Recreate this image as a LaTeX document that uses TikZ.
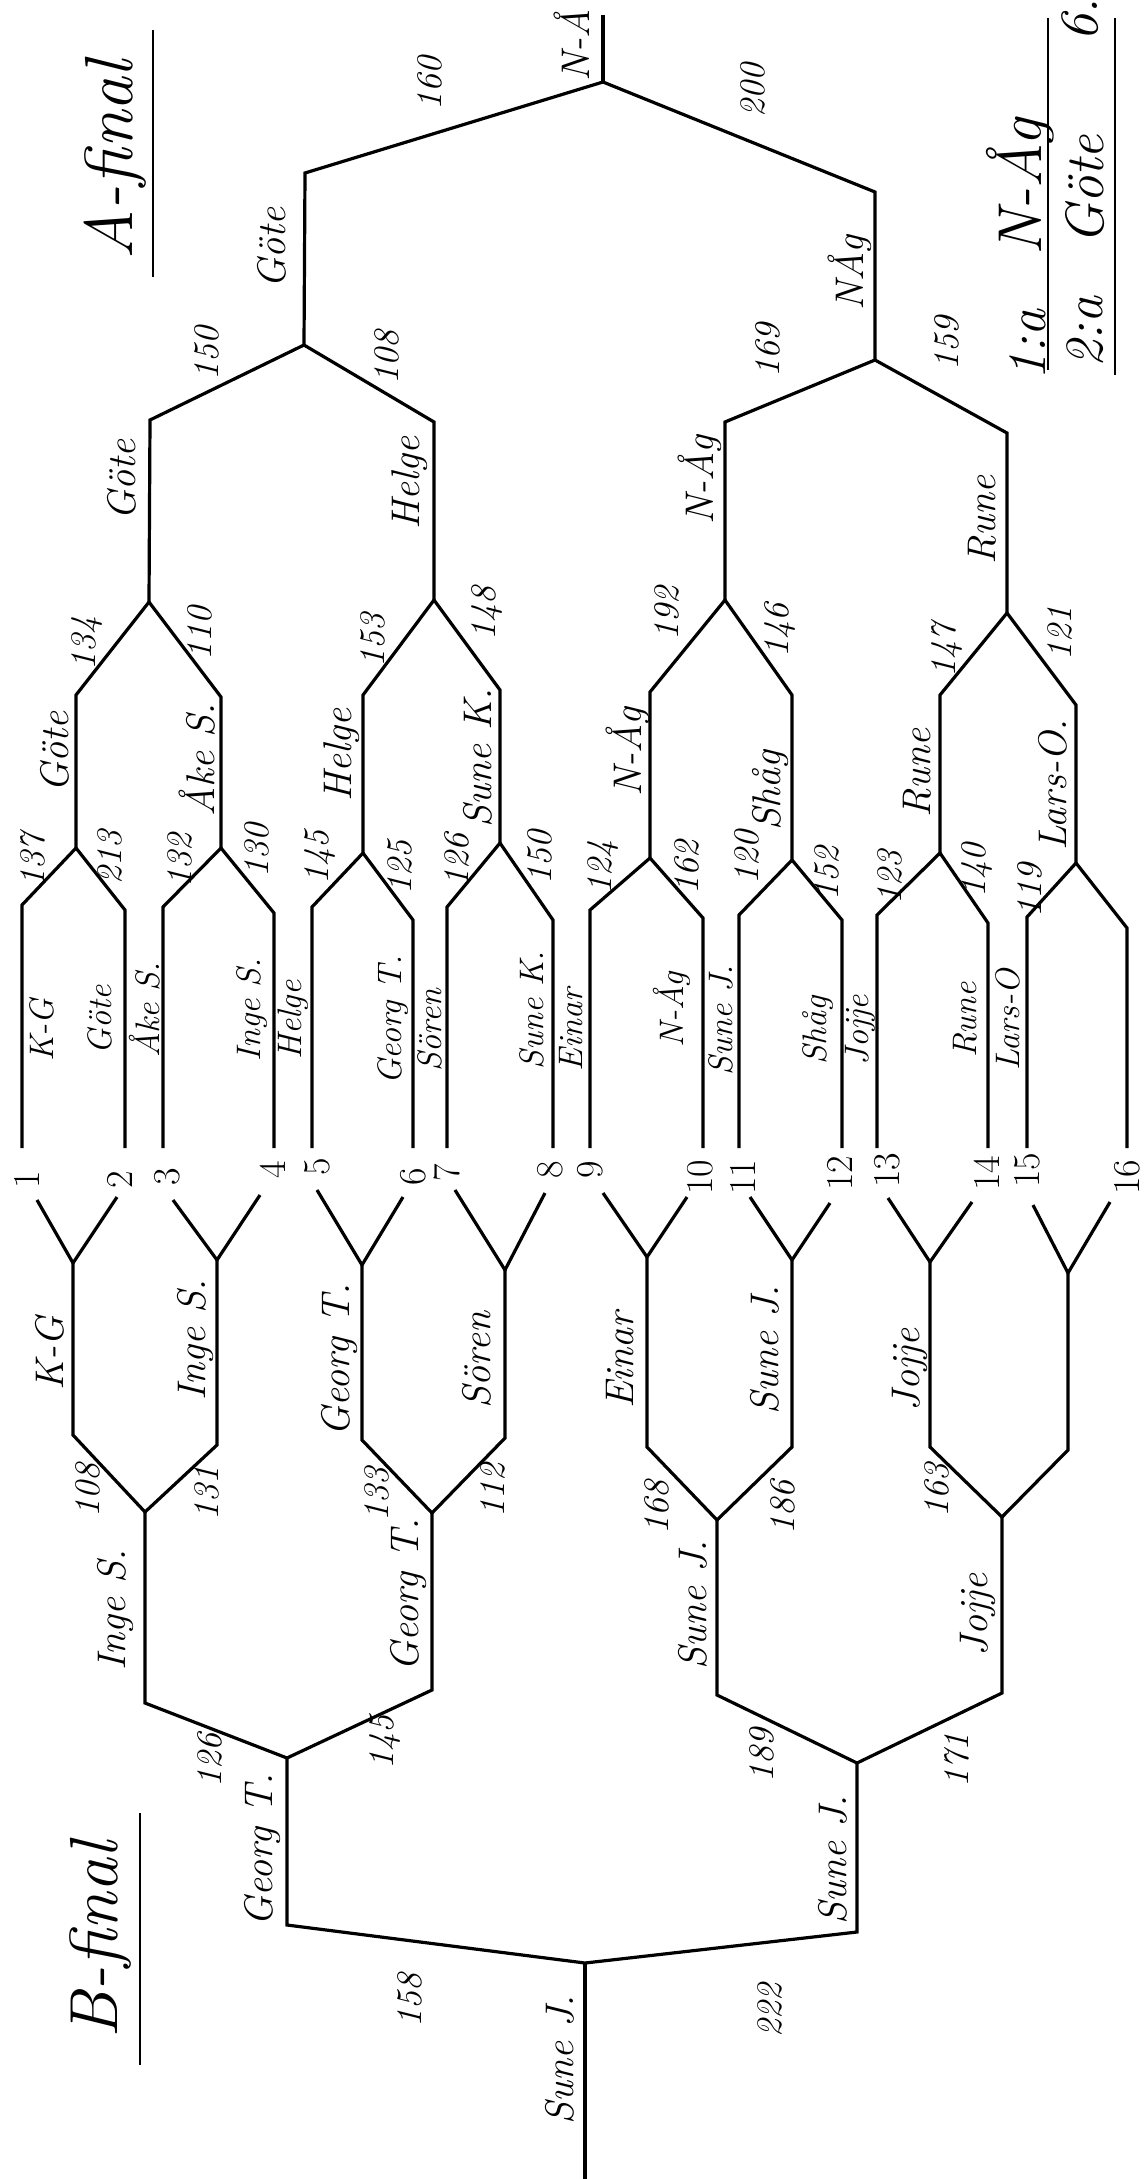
\documentclass[tikz,border=0pt]{standalone}
\usepackage{tikz}
\usetikzlibrary{positioning}

\begin{document}
\begin{tikzpicture}[x = 0.5pt, y = -0.5pt,
    bar/.style  = {line width = 1.6pt, line join = miter},
    who/.style  = {rotate = 90, font = \fontsize{20}{22}\selectfont\itshape, inner sep = 1pt},
    entry/.style = {rotate = 90, font = \fontsize{17}{19}\selectfont\itshape, inner sep = 1pt},
    pts/.style  = {rotate = 90, font = \fontsize{18}{20}\selectfont\itshape, inner sep = 1pt},
    nr/.style   = {rotate = 90, font = \fontsize{19}{21}\selectfont, inner sep = 1pt},
    head/.style = {rotate = 90, font = \fontsize{34}{38}\selectfont\itshape, inner sep = 1pt},
    res/.style  = {rotate = 90, font = \fontsize{27}{29}\selectfont\itshape, inner sep = 1pt}]
  \useasboundingbox (0,0) rectangle (1144,2179);

  % A-final: entries
  \coordinate (at1) at (22,905);    \coordinate (ab1) at (22,1148);
  \coordinate (at2) at (125,910);   \coordinate (ab2) at (125,1148);
  \coordinate (at3) at (163,907);   \coordinate (ab3) at (163,1148);
  \coordinate (at4) at (274,913);   \coordinate (ab4) at (274,1148);
  \coordinate (at5) at (312,907);   \coordinate (ab5) at (312,1148);
  \coordinate (at6) at (413,920);   \coordinate (ab6) at (413,1148);
  \coordinate (at7) at (447,907);   \coordinate (ab7) at (447,1148);
  \coordinate (at8) at (553,920);   \coordinate (ab8) at (553,1148);
  \coordinate (at9) at (590,910);   \coordinate (ab9) at (590,1148);
  \coordinate (at10) at (703,918);  \coordinate (ab10) at (703,1148);
  \coordinate (at11) at (739,915);  \coordinate (ab11) at (739,1148);
  \coordinate (at12) at (842,920);  \coordinate (ab12) at (842,1148);
  \coordinate (at13) at (877,915);  \coordinate (ab13) at (877,1148);
  \coordinate (at14) at (988,923);  \coordinate (ab14) at (988,1148);
  \coordinate (at15) at (1027,917); \coordinate (ab15) at (1027,1148);
  \coordinate (at16) at (1127,928); \coordinate (ab16) at (1127,1148);
  % A-final: rounds
  \coordinate (aj1) at (76,848);   \coordinate (av1) at (76,695);
  \coordinate (aj2) at (221,848);  \coordinate (av2) at (221,697);
  \coordinate (aj3) at (363,853);  \coordinate (av3) at (363,695);
  \coordinate (aj4) at (500,843);  \coordinate (av4) at (500,690);
  \coordinate (aj5) at (650,858);  \coordinate (av5) at (650,692);
  \coordinate (aj6) at (792,860);  \coordinate (av6) at (792,695);
  \coordinate (aj7) at (940,853);  \coordinate (av7) at (940,695);
  \coordinate (aj8) at (1076,863); \coordinate (av8) at (1076,705);
  \coordinate (ak1) at (149,602);  \coordinate (aw1) at (150,420);
  \coordinate (ak2) at (434,600);  \coordinate (aw2) at (434,422);
  \coordinate (ak3) at (725,600);  \coordinate (aw3) at (725,422);
  \coordinate (ak4) at (1007,613); \coordinate (aw4) at (1007,433);
  \coordinate (al1) at (304,345);  \coordinate (ax1) at (305,173);
  \coordinate (al2) at (875,360);  \coordinate (ax2) at (875,192);
  \coordinate (afin) at (603,82);  \coordinate (atop) at (603,15);

  \draw[bar] (ab1) -- (at1) -- (aj1) -- (at2) -- (ab2);
  \draw[bar] (ab3) -- (at3) -- (aj2) -- (at4) -- (ab4);
  \draw[bar] (ab5) -- (at5) -- (aj3) -- (at6) -- (ab6);
  \draw[bar] (ab7) -- (at7) -- (aj4) -- (at8) -- (ab8);
  \draw[bar] (ab9) -- (at9) -- (aj5) -- (at10) -- (ab10);
  \draw[bar] (ab11) -- (at11) -- (aj6) -- (at12) -- (ab12);
  \draw[bar] (ab13) -- (at13) -- (aj7) -- (at14) -- (ab14);
  \draw[bar] (ab15) -- (at15) -- (aj8) -- (at16) -- (ab16);
  \draw[bar] (aj1) -- (av1) -- (ak1) -- (av2) -- (aj2);
  \draw[bar] (aj3) -- (av3) -- (ak2) -- (av4) -- (aj4);
  \draw[bar] (aj5) -- (av5) -- (ak3) -- (av6) -- (aj6);
  \draw[bar] (aj7) -- (av7) -- (ak4) -- (av8) -- (aj8);
  \draw[bar] (ak1) -- (aw1) -- (al1) -- (aw2) -- (ak2);
  \draw[bar] (ak3) -- (aw3) -- (al2) -- (aw4) -- (ak4);
  \draw[bar] (al1) -- (ax1) -- (afin) -- (ax2) -- (al2);
  \draw[bar] (afin) -- (atop);

  % B-final: entries
  \coordinate (bt1) at (37,1200);   \coordinate (bt2) at (117,1197);
  \coordinate (bt3) at (173,1200);  \coordinate (bt4) at (260,1195);
  \coordinate (bt5) at (317,1190);  \coordinate (bt6) at (403,1197);
  \coordinate (bt7) at (455,1190);  \coordinate (bt8) at (545,1193);
  \coordinate (bt9) at (603,1193);  \coordinate (bt10) at (687,1197);
  \coordinate (bt11) at (750,1197); \coordinate (bt12) at (830,1203);
  \coordinate (bt13) at (888,1198); \coordinate (bt14) at (972,1202);
  \coordinate (bt15) at (1033,1205);\coordinate (bt16) at (1110,1202);
  % B-final: rounds
  \coordinate (bj1) at (73,1263);   \coordinate (bv1) at (73,1435);
  \coordinate (bj2) at (217,1260);  \coordinate (bv2) at (217,1445);
  \coordinate (bj3) at (362,1265);  \coordinate (bv3) at (362,1440);
  \coordinate (bj4) at (505,1270);  \coordinate (bv4) at (505,1438);
  \coordinate (bj5) at (647,1257);  \coordinate (bv5) at (647,1447);
  \coordinate (bj6) at (792,1260);  \coordinate (bv6) at (792,1447);
  \coordinate (bj7) at (930,1262);  \coordinate (bv7) at (930,1447);
  \coordinate (bj8) at (1068,1273); \coordinate (bv8) at (1068,1450);
  \coordinate (bk1) at (145,1512);  \coordinate (bw1) at (145,1703);
  \coordinate (bk2) at (432,1513);  \coordinate (bw2) at (432,1690);
  \coordinate (bk3) at (717,1520);  \coordinate (bw3) at (717,1695);
  \coordinate (bk4) at (1002,1517); \coordinate (bw4) at (1002,1693);
  \coordinate (bl1) at (287,1758);  \coordinate (bx1) at (287,1925);
  \coordinate (bl2) at (857,1763);  \coordinate (bx2) at (857,1932);
  \coordinate (bfin) at (585,1963); \coordinate (bbot) at (585,2179);

  \draw[bar] (bt1) -- (bj1) -- (bt2);    \draw[bar] (bt3) -- (bj2) -- (bt4);
  \draw[bar] (bt5) -- (bj3) -- (bt6);    \draw[bar] (bt7) -- (bj4) -- (bt8);
  \draw[bar] (bt9) -- (bj5) -- (bt10);   \draw[bar] (bt11) -- (bj6) -- (bt12);
  \draw[bar] (bt13) -- (bj7) -- (bt14);  \draw[bar] (bt15) -- (bj8) -- (bt16);
  \draw[bar] (bj1) -- (bv1) -- (bk1) -- (bv2) -- (bj2);
  \draw[bar] (bj3) -- (bv3) -- (bk2) -- (bv4) -- (bj4);
  \draw[bar] (bj5) -- (bv5) -- (bk3) -- (bv6) -- (bj6);
  \draw[bar] (bj7) -- (bv7) -- (bk4) -- (bv8) -- (bj8);
  \draw[bar] (bk1) -- (bw1) -- (bl1) -- (bw2) -- (bk2);
  \draw[bar] (bk3) -- (bw3) -- (bl2) -- (bw4) -- (bk4);
  \draw[bar] (bl1) -- (bx1) -- (bfin) -- (bx2) -- (bl2);
  \draw[bar] (bfin) -- (bbot);

  % lottning
  \node[nr] (n1) at (27,1180) {1};     \node[nr] (n2) at (120,1180) {2};
  \node[nr] (n3) at (167,1177) {3};    \node[nr] (n4) at (273,1170) {4};
  \node[nr] (n5) at (317,1167) {5};    \node[nr] (n6) at (413,1177) {6};
  \node[nr] (n7) at (447,1173) {7};    \node[nr] (n8) at (550,1170) {8};
  \node[nr] (n9) at (590,1170) {9};    \node[nr] (n10) at (700,1177) {10};
  \node[nr] (n11) at (743,1177) {11};  \node[nr] (n12) at (840,1173) {12};
  \node[nr] (n13) at (887,1170) {13};  \node[nr] (n14) at (987,1173) {14};
  \node[nr] (n15) at (1027,1170) {15}; \node[nr] (n16) at (1127,1177) {16};

  % A-final: names and scores
  \node[entry] (a0kg) at (42,1030) {K-G};
  \node[entry] (a0gote) at (100,1020) {Göte};
  \node[entry] (a0ake) at (145,1010) {Åke S.};
  \node[entry] (a0inge) at (252,1010) {Inge S.};
  \node[entry] (a0helge) at (293,1020) {Helge};
  \node[entry] (a0georg) at (393,1020) {Georg T.};
  \node[entry] (a0soren) at (430,1030) {Sören};
  \node[entry] (a0sunek) at (532,1010) {Sune K.};
  \node[entry] (a0einar) at (571,1030) {Einar};
  \node[entry] (a0na) at (672,1010) {N-Åg};
  \node[entry] (a0sunej) at (721,1020) {Sune J.};
  \node[entry] (a0shag) at (818,1030) {Shåg};
  \node[entry] (a0jojje) at (860,1030) {Jojje};
  \node[entry] (a0rune) at (965,1020) {Rune};
  \node[entry] (a0lars) at (1008,1020) {Lars-O};

  \node[pts] (s137) at (33,860) {137};   \node[pts] (s213) at (110,857) {213};
  \node[pts] (s132) at (180,860) {132};  \node[pts] (s130) at (257,850) {130};
  \node[pts] (s145) at (320,857) {145};  \node[pts] (s125) at (400,867) {125};
  \node[pts] (s126) at (457,860) {126};  \node[pts] (s150) at (540,857) {150};
  \node[pts] (s124) at (603,867) {124};  \node[pts] (s162) at (687,867) {162};
  \node[pts] (s120) at (747,857) {120};  \node[pts] (s152) at (827,873) {152};
  \node[pts] (s123) at (890,877) {123};  \node[pts] (s140) at (977,870) {140};
  \node[pts] (s119) at (1030,890) {119};

  \node[who] (a1gote) at (55,752) {Göte};
  \node[who] (a1ake) at (197,760) {Åke S.};
  \node[who] (a1helge) at (342,755) {Helge};
  \node[who] (a1sunek) at (478,758) {Sune K.};
  \node[who] (a1na) at (628,752) {N-Åg};
  \node[who] (a1shag) at (770,790) {Shåg};
  \node[who] (a1rune) at (917,773) {Rune};
  \node[who] (a1lars) at (1053,785) {Lars-O.};

  \node[pts] (s134) at (87,643) {134};   \node[pts] (s110) at (200,633) {110};
  \node[pts] (s153) at (373,640) {153};  \node[pts] (s148) at (487,613) {148};
  \node[pts] (s192) at (667,613) {192};  \node[pts] (s146) at (780,630) {146};
  \node[pts] (s147) at (947,650) {147};  \node[pts] (s121) at (1060,633) {121};

  \node[who] (a2gote) at (122,480) {Göte};
  \node[who] (a2helge) at (410,483) {Helge};
  \node[who] (a2na) at (700,480) {N-Åg};
  \node[who] (a2rune) at (982,520) {Rune};

  \node[pts] (s150b) at (207,353) {150}; \node[pts] (s108) at (387,357) {108};
  \node[pts] (s169) at (768,350) {169};  \node[pts] (s159) at (947,343) {159};

  \node[who] (a3gote) at (272,248) {Göte};
  \node[who] (a3na) at (850,273) {NÅg};
  \node[pts] (s160) at (430,83) {160};   \node[pts] (s200) at (753,90) {200};
  \node[who] (awin) at (572,45) {N-Å};

  \node[head] (ahead) at (115,160) {A-final};
  \coordinate (au1) at (153,30); \coordinate (au2) at (153,277);
  \draw[line width = 1.4pt] (au1) -- (au2);

  % resultat
  \node[res] (six) at (1080,20) {6.};
  \node[res] (first) at (1028,345) {1:a};
  \node[res, font = \fontsize{31}{33}\selectfont\itshape] (firstna) at (1020,187) {N-Åg};
  \node[res] (second) at (1085,332) {2:a};
  \node[res] (secondgote) at (1085,190) {Göte};
  \coordinate (ru1) at (1048,18);  \coordinate (ru2) at (1048,370);
  \coordinate (ru3) at (1115,18);  \coordinate (ru4) at (1115,375);
  \draw[line width = 1.4pt] (ru1) -- (ru2);
  \draw[line width = 1.4pt] (ru3) -- (ru4);

  % B-final: names and scores
  \node[who] (b1kg) at (50,1353) {K-G};
  \node[who] (b1inge) at (195,1340) {Inge S.};
  \node[who] (b1georg) at (339,1360) {Georg T.};
  \node[who] (b1soren) at (477,1360) {Sören};
  \node[who] (b1einar) at (620,1360) {Einar};
  \node[who] (b1sunej) at (765,1350) {Sune J.};
  \node[who] (b1jojje) at (910,1370) {Jojje};

  \node[pts] (t108) at (88,1490) {108};  \node[pts] (t131) at (207,1493) {131};
  \node[pts] (t133) at (377,1494) {133}; \node[pts] (t112) at (493,1490) {112};
  \node[pts] (t168) at (657,1507) {168}; \node[pts] (t186) at (783,1507) {186};
  \node[pts] (t163) at (937,1490) {163};

  \node[who] (b2inge) at (115,1610) {Inge S.};
  \node[who] (b2georg) at (408,1595) {Georg T.};
  \node[who] (b2sunej) at (693,1605) {Sune J.};
  \node[who] (b2jojje) at (978,1615) {Jojje};

  \node[pts] (t126) at (210,1760) {126}; \node[pts] (t145) at (385,1742) {145};
  \node[pts] (t189) at (762,1755) {189}; \node[pts] (t171) at (957,1760) {171};

  \node[who] (b3georg) at (262,1850) {Georg T.};
  \node[who] (b3sunej) at (833,1860) {Sune J.};
  \node[pts] (t158) at (410,2000) {158};  \node[pts] (t222) at (770,2010) {222};
  \node[who] (bwin) at (560,2060) {Sune J.};

  \node[head] (bhead) at (100,1940) {B-final};
  \coordinate (bu1) at (140,1813); \coordinate (bu2) at (140,2065);
  \draw[line width = 1.4pt] (bu1) -- (bu2);
\end{tikzpicture}
\end{document}
